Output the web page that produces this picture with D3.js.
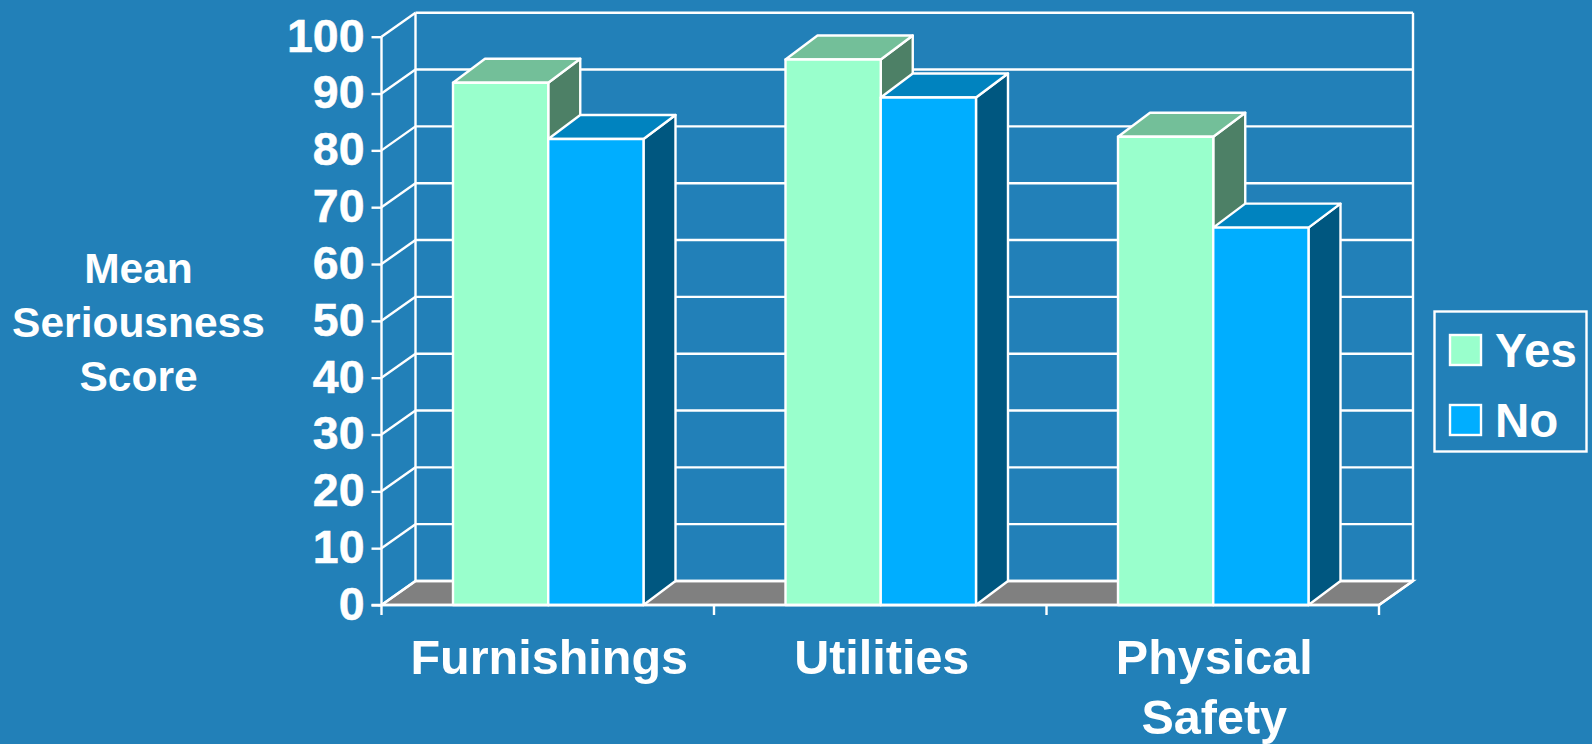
<!DOCTYPE html>
<html><head><meta charset="utf-8">
<script src="https://d3js.org/d3.v7.min.js"></script>
<style>html,body{margin:0;padding:0;background:#2280B8}svg{display:block}text{font-family:"Liberation Sans",Arial,sans-serif;font-weight:700;fill:#fff}</style>
</head><body><script>
const categories = ["Furnishings", "Utilities", "Physical Safety"];
const seriesNames = ["Yes", "No"];
const yesValues = [91.9, 96.0, 82.4];
const noValues = [82.0, 89.3, 66.4];
const tickValues = [0,10,20,30,40,50,60,70,80,90,100];
const yLabelLines = ["Mean", "Seriousness", "Score"];
const colors = {Yes:{front:"#99FFCC",top:"#73BF99",side:"#4D8066"},No:{front:"#00AEFF",top:"#0083BF",side:"#005780"}};

const W=1592,H=744,dx=34,dy=-24,bdx=32,bdy=-24,ink="#fff",sw=2.4;
const svg=d3.select("body").append("svg").attr("width",W).attr("height",H);
const x=d3.scaleBand().domain(categories).range([381.5,1379]);
const inner=d3.scaleBand().domain(seriesNames).range([71.5,71.5+190.5]);
const y=d3.scaleLinear().domain([0,100]).range([605,36.7]);
const pts=a=>a.map(p=>p.join(",")).join(" ");
const [x0,x1]=x.range();

// floor
svg.append("polygon").attr("points",pts([[x0,y(0)],[x0+dx,y(0)+dy],[x1+dx,y(0)+dy],[x1,y(0)]]))
  .attr("fill","#808080").attr("stroke",ink).attr("stroke-width",sw);
// walls
const g=svg.append("g").attr("stroke",ink).attr("stroke-width",sw).attr("fill","none");
tickValues.forEach(v=>{
  g.append("line").attr("x1",x0+dx).attr("x2",x1+dx).attr("y1",y(v)+dy).attr("y2",y(v)+dy);
  g.append("line").attr("x1",x0).attr("x2",x0+dx).attr("y1",y(v)).attr("y2",y(v)+dy);
});
[x0+dx,x1+dx].forEach(px=>g.append("line").attr("x1",px).attr("x2",px).attr("y1",y(0)+dy).attr("y2",y(100)+dy));
g.append("line").attr("x1",x0).attr("x2",x0).attr("y1",y(0)).attr("y2",y(100));
g.append("line").attr("x1",x1).attr("x2",x1+dx).attr("y1",y(0)).attr("y2",y(0)+dy);

// bars
const bars=svg.append("g").attr("stroke",ink).attr("stroke-width",sw).attr("stroke-linejoin","round");
categories.forEach((c,i)=>{
  [["Yes",yesValues[i]],["No",noValues[i]]].forEach(([s,v])=>{
    const l=x(c)+inner(s),r=l+inner.bandwidth(),t=y(v),b=y(0),col=colors[s];
    bars.append("polygon").attr("fill",col.side).attr("points",pts([[r,t],[r+bdx,t+bdy],[r+bdx,b+bdy],[r,b]]));
    bars.append("polygon").attr("fill",col.top).attr("points",pts([[l,t],[l+bdx,t+bdy],[r+bdx,t+bdy],[r,t]]));
    bars.append("rect").attr("fill",col.front).attr("x",l).attr("y",t).attr("width",r-l).attr("height",b-t);
  });
});

// axes
const ax=d3.axisLeft(y).tickValues(tickValues).tickSize(10).tickPadding(7).tickFormat(d3.format("d"));
const ga=svg.append("g").attr("transform",`translate(${x0},0)`).call(ax);
ga.select(".domain").remove();
ga.selectAll("line").attr("stroke",ink).attr("stroke-width",sw);
ga.selectAll("text").attr("font-size",46.5).attr("fill",ink).style("font-family",'"Liberation Sans",Arial,sans-serif').style("font-weight",700).attr("stroke",ink).attr("stroke-width",0.5).attr("dy","0.31em");
const bx=d3.axisBottom(x).tickSize(0).tickFormat("");
const gb=svg.append("g").attr("transform",`translate(0,${y(0)})`).call(bx);
gb.selectAll(".tick").remove();
gb.select(".domain").remove();
gb.append("line").attr("x1",x0-10).attr("x2",x1).attr("stroke",ink).attr("stroke-width",sw);
[...categories.map(c=>x(c)),x1].forEach(px=>gb.append("line").attr("x1",px).attr("x2",px).attr("y1",0).attr("y2",10).attr("stroke",ink).attr("stroke-width",sw));

// category labels
categories.forEach(c=>{
  const cx=x(c)+inner.range()[0]+(inner.range()[1]-inner.range()[0])/2+1;
  const words=c==="Physical Safety"?c.split(" "):[c];
  words.forEach((w,j)=>svg.append("text").attr("x",cx).attr("y",674+j*60).attr("text-anchor","middle").attr("font-size",48.5).text(w));
});
// y title
yLabelLines.forEach((t,j)=>svg.append("text").attr("x",138.5).attr("y",283+j*54).attr("text-anchor","middle").attr("font-size",42.5).text(t));

// legend
svg.append("rect").attr("x",1434.5).attr("y",311.5).attr("width",152).attr("height",140).attr("fill","none").attr("stroke",ink).attr("stroke-width",sw);
seriesNames.forEach((s,i)=>{
  svg.append("rect").attr("x",1450).attr("y",335+i*70).attr("width",31).attr("height",30).attr("fill",colors[s].front).attr("stroke",ink).attr("stroke-width",sw);
  svg.append("text").attr("x",1495).attr("y",367+i*70).attr("font-size",47.5).text(s);
});
</script></body></html>
